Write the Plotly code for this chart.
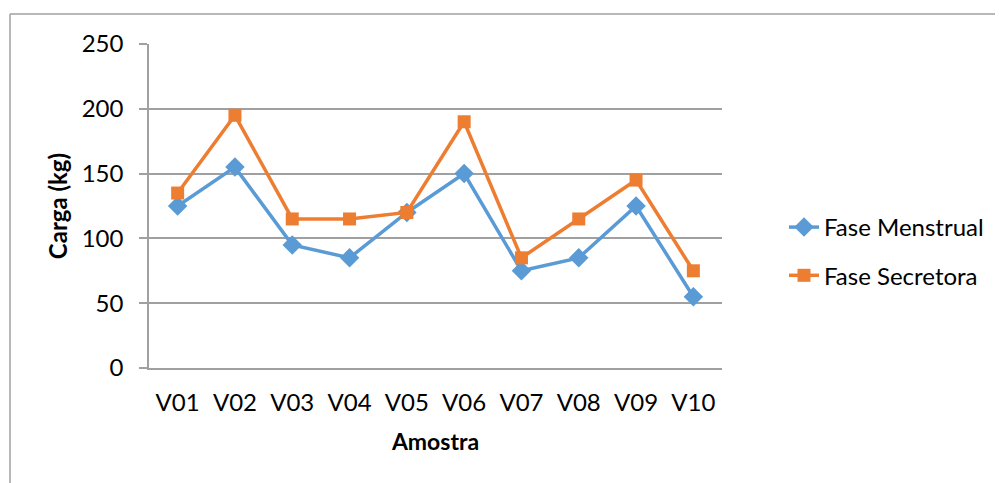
import plotly.graph_objects as go

categories = ["V01", "V02", "V03", "V04", "V05", "V06", "V07", "V08", "V09", "V10"]
menstrual = [125, 155, 95, 85, 120, 150, 75, 85, 125, 55]
secretora = [135, 195, 115, 115, 120, 190, 85, 115, 145, 75]
y_ticks = [0, 50, 100, 150, 200, 250]

FONT = "Lato, 'Open Sans', sans-serif"
OFF = 8  # page body margin
W, H = 1003 - OFF, 483 - OFF
L, T = 149 - OFF, 44 - OFF
R = W - (722 - OFF)
B = H - (368 - OFF)
pw, ph = W - L - R, H - T - B

def px(x):
    return (x - OFF - L) / pw

def py(y):
    return (H - B - (y - OFF)) / ph

fig = go.Figure()
fig.add_trace(go.Scatter(x=categories, y=menstrual, name="Fase Menstrual", mode="lines+markers",
                         legendgroup="a",
                         line=dict(color="#5B9BD5", width=3.5),
                         marker=dict(symbol="diamond", size=15, color="#5B9BD5")))
fig.add_trace(go.Scatter(x=categories, y=secretora, name="Fase Secretora", mode="lines+markers",
                         legendgroup="b",
                         line=dict(color="#ED7D31", width=3.5),
                         marker=dict(symbol="square", size=13, color="#ED7D31")))

fig.update_layout(
    width=W, height=H,
    margin=dict(l=L, r=R, t=T, b=B, autoexpand=False),
    paper_bgcolor="white", plot_bgcolor="white",
    font=dict(family=FONT, size=24, color="black"),
    showlegend=True,
    legend=dict(x=px(784), y=py(205), xanchor="left", yanchor="top",
                font=dict(size=24), tracegroupgap=14, itemwidth=30,
                bgcolor="rgba(0,0,0,0)"),
    xaxis=dict(type="category", range=[-0.5, 9.5], showgrid=False,
               showline=True, linecolor="#A0A0A0", linewidth=1.5,
               ticks="", tickfont=dict(size=24), ticklabelstandoff=12,
               title=dict(text="<b>Amostra</b>", font=dict(size=23), standoff=19)),
    yaxis=dict(range=[0, 250], tickvals=y_ticks, showgrid=True, gridcolor="#A0A0A0", gridwidth=1.5,
               showline=True, linecolor="#A0A0A0", linewidth=1.5, zeroline=False,
               ticks="outside", ticklen=8, tickcolor="#A0A0A0", tickwidth=1.5,
               tickfont=dict(size=24), ticklabelstandoff=11,
               title=dict(text="<b>Carga (kg)</b>", font=dict(size=24), standoff=7)),
)

# outer chart border (top and left visible)
fig.add_shape(type="line", xref="paper", yref="paper", x0=px(10), x1=px(1003), y0=py(14), y1=py(14),
              line=dict(color="#A0A0A0", width=1.5))
fig.add_shape(type="line", xref="paper", yref="paper", x0=px(10), x1=px(10), y0=py(14), y1=py(483),
              line=dict(color="#A0A0A0", width=1.5))

fig.write_html("out.html")
